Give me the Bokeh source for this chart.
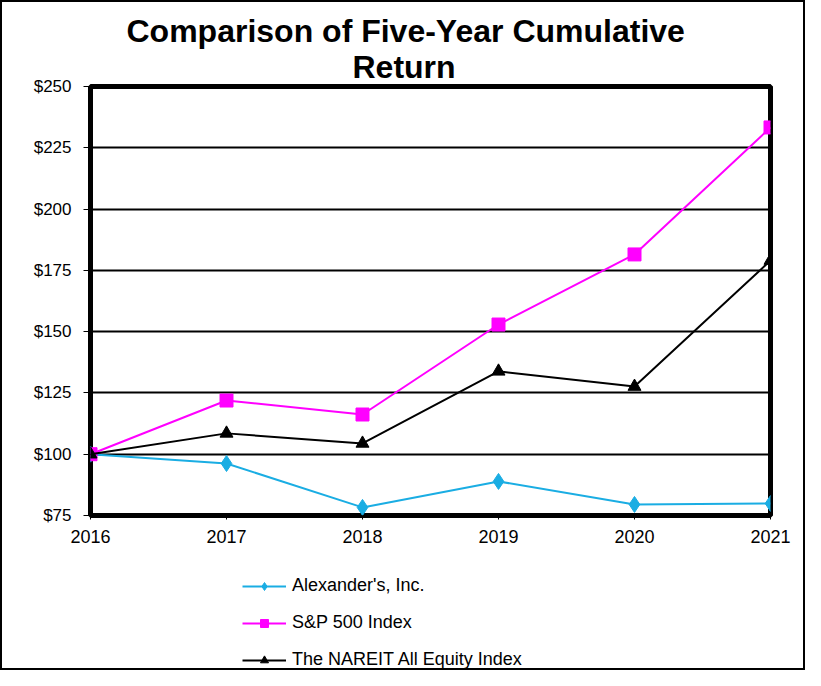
from bokeh.plotting import figure
from bokeh.layouts import column
from bokeh.models import Title, Legend, LegendItem, FixedTicker, CustomJSTickFormatter, Range1d
from bokeh.embed import file_html
from bokeh.resources import INLINE

years = [2016, 2017, 2018, 2019, 2020, 2021]
alexanders = [100, 96.2, 78.3, 88.9, 79.5, 79.9]
sp500 = [100, 121.9, 116.2, 152.9, 181.5, 233.3]
nareit = [100, 108.5, 104.4, 133.8, 127.6, 179.0]
y_ticks = [75, 100, 125, 150, 175, 200, 225, 250]
series_names = ["Alexander's, Inc.", "S&P 500 Index", "The NAREIT All Equity Index"]

FONT = "Liberation Sans"
c_alex = "#1AADE3"
c_sp = "#FF00FF"
c_na = "#000000"

p = figure(width=801, height=557, output_backend="svg", toolbar_location=None,
           x_range=Range1d(2016, 2021), y_range=Range1d(75, 250),
           min_border_left=88, min_border_right=33, min_border_bottom=44, min_border_top=84)
p.title = None
p.add_layout(Title(text="Return", text_font=FONT, text_font_size="32px", text_font_style="bold",
                   text_color="black", align="left", offset=262, standoff=4), "above")
p.add_layout(Title(text="Comparison of Five-Year Cumulative", text_font=FONT, text_font_size="32px",
                   text_font_style="bold", text_color="black", align="left", offset=36, standoff=-9), "above")

p.outline_line_color = "black"
p.outline_line_width = 5
p.xgrid.grid_line_color = None
p.ygrid.grid_line_color = "black"
p.ygrid.grid_line_width = 2
p.ygrid.grid_line_alpha = 1

p.yaxis.ticker = FixedTicker(ticks=y_ticks)
p.yaxis.formatter = CustomJSTickFormatter(code="return '$' + tick;")
p.xaxis.ticker = FixedTicker(ticks=years)
for ax in (p.xaxis, p.yaxis):
    ax.axis_line_color = None
    ax.minor_tick_line_color = None
    ax.major_label_text_font = FONT
    ax.major_label_text_color = "black"
    ax.major_tick_line_color = "black"
    ax.major_tick_in = 0
p.yaxis.major_label_text_font_size = "17px"
p.xaxis.major_label_text_font_size = "18px"
p.yaxis.major_tick_out = 7
p.xaxis.major_tick_out = 4
p.yaxis.major_label_standoff = 12
p.xaxis.major_label_standoff = 10


def draw(fig, msize=1.0):
    l1 = fig.line(years, alexanders, line_color=c_alex, line_width=2)
    m1 = fig.scatter(years, alexanders, marker="diamond", size=16 * msize, color=c_alex)
    l2 = fig.line(years, sp500, line_color=c_sp, line_width=2)
    m2 = fig.scatter(years, sp500, marker="square", size=13 * msize, color=c_sp)
    l3 = fig.line(years, nareit, line_color=c_na, line_width=2)
    m3 = fig.scatter(years, nareit, marker="triangle", size=13 * msize, color=c_na)
    return [(l1, m1), (l2, m2), (l3, m3)]


draw(p)

# legend panel below the chart (its own copies of the series sit outside its view)
lp = figure(width=801, height=109, output_backend="svg", toolbar_location=None,
            x_range=Range1d(0, 1), y_range=Range1d(0, 1), x_axis_type=None, y_axis_type=None,
            min_border=0)
lp.outline_line_color = None
lp.grid.grid_line_color = None
pairs = draw(lp, msize=0.7)
legend = Legend(items=[LegendItem(label=n, renderers=list(r)) for n, r in zip(series_names, pairs)],
                location=(152, -2), border_line_color=None, background_fill_alpha=0,
                label_text_font=FONT, label_text_font_size="18px", label_text_color="black",
                glyph_width=44, glyph_height=20,
                label_height=20, spacing=16, label_standoff=6, padding=0, margin=0)
lp.add_layout(legend, "center")

layout = column(p, lp, spacing=0)
layout.styles = {"border": "2px solid black"}

open("out.html", "w").write(file_html(layout, INLINE))
